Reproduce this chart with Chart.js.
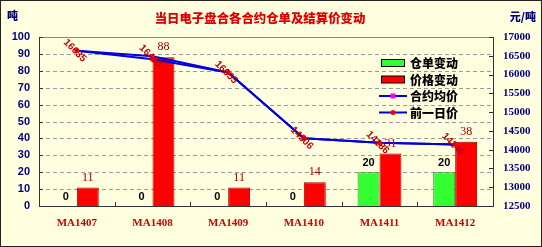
<!DOCTYPE html>
<html><head><meta charset="utf-8">
<script src="https://cdn.jsdelivr.net/npm/chart.js@4/dist/chart.umd.min.js"></script>
<style>html,body{margin:0;padding:0;background:#FFFFDF;}canvas{display:block}</style>
</head><body>
<canvas id="c" width="542" height="247"></canvas>
<script>
const categories = ['MA1407','MA1408','MA1409','MA1410','MA1411','MA1412'];
const warrantChange = [0,0,0,0,20,20];
const priceChange = [11,88,11,14,31,38];
const avgPrice = [16635,16490,16055,14306,14186,14140];
const prevPrice = [16635,16410,16055,14306,14186,14140];
const seriesNames = ['仓单变动','价格变动','合约均价','前一日价'];
const chartTitle = '当日电子盘合各合约仓单及结算价变动';
const leftUnit = '吨';
const rightUnit = '元/吨';

const BG = '#FFFFDF';
const CJK = "'Noto Sans CJK SC'";

const deco = {
  id: 'deco',
  beforeDraw(chart) {
    const ctx = chart.ctx;
    ctx.save();
    ctx.fillStyle = BG;
    ctx.fillRect(0, 0, chart.width, chart.height);
    ctx.restore();
  },
  beforeDatasetsDraw(chart) {
    const ctx = chart.ctx;
    const a = chart.chartArea;
    const yl = chart.scales.y;
    ctx.save();
    ctx.strokeStyle = '#9A9A9A';
    ctx.lineWidth = 1;
    ctx.setLineDash([4, 3]);
    yl.ticks.forEach(t => {
      if (t.value === 0 || t.value === 100) return;
      const y = Math.round(yl.getPixelForValue(t.value)) + 0.5;
      ctx.beginPath(); ctx.moveTo(a.left, y); ctx.lineTo(a.right, y); ctx.stroke();
    });
    ctx.setLineDash([]);
    ctx.strokeStyle = '#888';
    ctx.beginPath(); ctx.moveTo(a.left, a.top + 0.5); ctx.lineTo(a.right, a.top + 0.5); ctx.stroke();
    ctx.restore();
  },
  afterDraw(chart) {
    const ctx = chart.ctx;
    const a = chart.chartArea;
    const xs = chart.scales.x, yr = chart.scales.y1, yl = chart.scales.y;
    ctx.save();
    ctx.strokeStyle = '#222';
    ctx.lineWidth = 1;
    ctx.strokeRect(0.5, 0.5, chart.width - 1, chart.height - 1);
    // inner ticks
    ctx.strokeStyle = '#333';
    yr.ticks.forEach(t => {
      const y = Math.round(yr.getPixelForValue(t.value)) + 0.5;
      ctx.beginPath(); ctx.moveTo(a.right - 4, y); ctx.lineTo(a.right, y); ctx.stroke();
    });
    yl.ticks.forEach(t => {
      const y = Math.round(yl.getPixelForValue(t.value)) + 0.5;
      ctx.beginPath(); ctx.moveTo(a.left, y); ctx.lineTo(a.left + 4, y); ctx.stroke();
    });
    for (let i = 1; i < categories.length; i++) {
      const x = Math.round((xs.getPixelForValue(i - 1) + xs.getPixelForValue(i)) / 2) + 0.5;
      ctx.beginPath(); ctx.moveTo(x, a.bottom); ctx.lineTo(x, a.bottom - 4); ctx.stroke();
    }
    // title
    ctx.fillStyle = '#E00000';
    ctx.font = "900 12.4px " + CJK;
    ctx.textAlign = 'center'; ctx.textBaseline = 'middle';
    ctx.fillText(chartTitle, 260, 18);
    // units
    ctx.fillStyle = '#000080';
    ctx.font = "900 11px " + CJK;
    ctx.textAlign = 'left';
    ctx.fillText(leftUnit, 7, 16);
    ctx.textAlign = 'right';
    ctx.fillText(rightUnit, 536, 17);
    // bar labels
    const m0 = chart.getDatasetMeta(0), m1 = chart.getDatasetMeta(1);
    ctx.textAlign = 'center'; ctx.textBaseline = 'middle';
    ctx.font = "bold 11px 'Liberation Sans'";
    ctx.fillStyle = '#000';
    m0.data.forEach((el, i) => ctx.fillText(String(warrantChange[i]), el.x, el.y - 9));
    ctx.font = "12px 'Liberation Serif'";
    ctx.fillStyle = '#A00000';
    m1.data.forEach((el, i) => ctx.fillText(String(priceChange[i]), el.x, el.y - 10));
    // line labels (rotated)
    const m2 = chart.getDatasetMeta(2);
    ctx.font = "bold 10px 'Liberation Sans'";
    ctx.fillStyle = '#C00000';
    m2.data.forEach((el, i) => {
      ctx.save();
      ctx.translate(el.x - 2, el.y);
      ctx.rotate(Math.PI / 4);
      ctx.fillText(String(avgPrice[i]), 0, 0);
      ctx.restore();
    });
    // legend
    const lx = 381, lw = 24, tx = 410;
    const rows = [63, 79.5, 96, 112.5];
    ctx.lineWidth = 1;
    ctx.fillStyle = '#33FF33'; ctx.fillRect(lx, rows[0] - 3.5, lw, 7);
    ctx.strokeStyle = '#000'; ctx.strokeRect(lx + 0.5, rows[0] - 3.5, lw - 1, 7);
    ctx.fillStyle = '#FF0000'; ctx.fillRect(lx, rows[1] - 3.5, lw, 7);
    ctx.strokeRect(lx + 0.5, rows[1] - 3.5, lw - 1, 7);
    ctx.strokeStyle = '#0000E0'; ctx.lineWidth = 2;
    [2, 3].forEach(k => {
      ctx.beginPath(); ctx.moveTo(lx - 2, rows[k]); ctx.lineTo(lx + lw + 2, rows[k]); ctx.stroke();
    });
    ctx.fillStyle = '#FF00FF'; ctx.fillRect(lx + lw / 2 - 2.5, rows[2] - 2.5, 5, 5);
    ctx.fillStyle = '#FF0000'; ctx.beginPath(); ctx.arc(lx + lw / 2, rows[3], 2.5, 0, Math.PI * 2); ctx.fill();
    ctx.fillStyle = '#000';
    ctx.font = "900 12px " + CJK;
    ctx.textAlign = 'left';
    seriesNames.forEach((n, i) => ctx.fillText(n, tx, rows[i] + 0.5));
    ctx.restore();
  }
};

new Chart(document.getElementById('c'), {
  data: {
    labels: categories,
    datasets: [
      { type: 'bar', label: seriesNames[0], data: warrantChange, yAxisID: 'y',
        backgroundColor: '#33FF33', borderColor: '#229922', borderWidth: 1, order: 3,
        categoryPercentage: 0.58, barPercentage: 1 },
      { type: 'bar', label: seriesNames[1], data: priceChange, yAxisID: 'y',
        backgroundColor: '#FF0000', borderColor: '#AA0000', borderWidth: 1, order: 3,
        categoryPercentage: 0.58, barPercentage: 1 },
      { type: 'line', label: seriesNames[2], data: avgPrice, yAxisID: 'y1',
        borderColor: '#0000E0', borderWidth: 2, pointStyle: 'rect', pointRadius: 2.5,
        pointBackgroundColor: '#FF00FF', pointBorderColor: '#FF00FF', pointBorderWidth: 0, tension: 0, order: 2 },
      { type: 'line', label: seriesNames[3], data: prevPrice, yAxisID: 'y1',
        borderColor: '#0000E0', borderWidth: 2, pointStyle: 'circle', pointRadius: 2.5,
        pointBackgroundColor: '#FF0000', pointBorderColor: '#FF0000', pointBorderWidth: 0, tension: 0, order: 1 }
    ]
  },
  options: {
    responsive: false, animation: false, devicePixelRatio: 1,
    layout: { padding: { top: 37, bottom: 0, left: 0, right: 0 } },
    plugins: { legend: { display: false }, title: { display: false }, tooltip: { enabled: false } },
    scales: {
      x: {
        offset: true,
        grid: { display: false },
        border: { display: true, color: '#333' },
        ticks: { color: '#D00000', font: { family: 'Liberation Serif', size: 11, weight: 'bold' }, padding: 3, maxRotation: 0 },
        afterFit(s) { s.height = 41; }
      },
      y: {
        position: 'left', min: 0, max: 100,
        ticks: { stepSize: 10, color: '#000080', font: { family: 'Liberation Sans', size: 11, weight: 'bold' }, padding: 9 },
        grid: { display: false, drawTicks: false },
        border: { display: true, color: '#333' },
        afterFit(s) { s.width = 39; }
      },
      y1: {
        position: 'right', min: 12500, max: 17000,
        ticks: { stepSize: 500, color: '#000080', font: { family: 'Liberation Serif', size: 11, weight: 'bold' }, padding: 10,
                 callback: v => String(v) },
        grid: { display: false, drawTicks: false },
        border: { display: true, color: '#333' },
        afterFit(s) { s.width = 49; }
      }
    }
  },
  plugins: [deco]
});
</script>
</body></html>
